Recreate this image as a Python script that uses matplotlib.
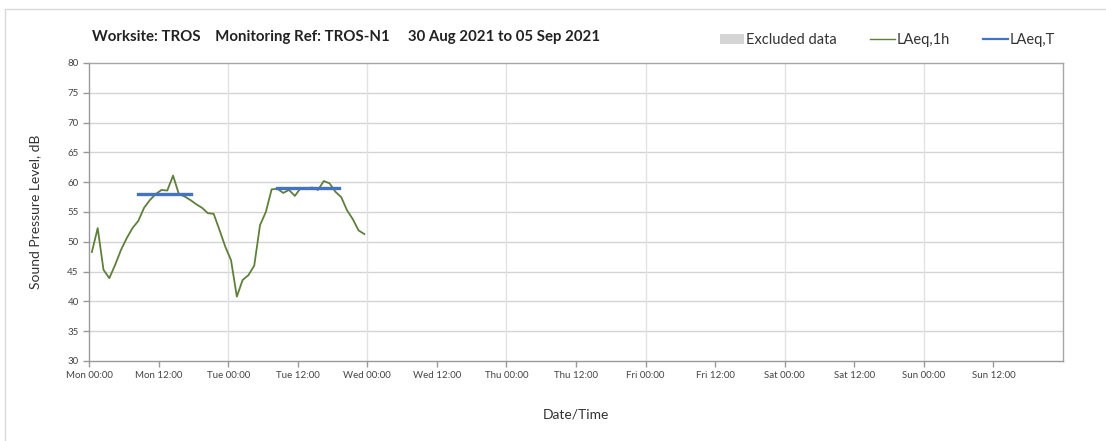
import matplotlib

matplotlib.use("Agg")
import matplotlib.pyplot as plt
from matplotlib.lines import Line2D
from matplotlib.patches import Patch, Rectangle

plt.rcParams["font.family"] = ["Lato", "DejaVu Sans"]

# Hourly LAeq,1h values, x in hours from Mon 00:00 (plotted mid-hour)
hours = [h + 0.5 for h in range(48)]
laeq_1h = [48.3, 52.3, 45.3, 43.9, 46.1, 48.6, 50.6, 52.3, 53.5, 55.7,
           57.0, 58.0, 58.7, 58.6, 61.1, 58.0, 57.6, 57.0, 56.3, 55.7,
           54.8, 54.7, 52.0, 49.2, 46.9, 40.8, 43.6, 44.4, 46.0, 52.8,
           55.0, 58.8, 58.9, 58.2, 58.7, 57.7, 59.0, 59.0, 59.1, 58.7,
           60.2, 59.8, 58.4, 57.5, 55.3, 53.8, 51.9, 51.3]

# LAeq,T period levels (start hour, end hour, level)
period_start = [8.4, 32.4]
period_end = [17.6, 43.2]
period_level = [58.0, 59.1]

tick_hours = list(range(0, 168, 12))
tick_labels = ["Mon 00:00", "Mon 12:00", "Tue 00:00", "Tue 12:00",
               "Wed 00:00", "Wed 12:00", "Thu 00:00", "Thu 12:00",
               "Fri 00:00", "Fri 12:00", "Sat 00:00", "Sat 12:00",
               "Sun 00:00", "Sun 12:00"]

W, H = 1106, 441
fig = plt.figure(figsize=(W / 100, H / 100), dpi=100)
fig.patches.append(Rectangle((5 / W, -0.1), 1.2, (H - 9) / H + 0.1,
                             transform=fig.transFigure, fill=False,
                             edgecolor="#d9d9d9", lw=1))

ax = fig.add_axes([89 / W, (H - 361) / H, (1063 - 89) / W, (361 - 63) / H])

# horizontal grid every 5 dB, vertical only at midnight
for y in range(35, 80, 5):
    ax.axhline(y, color="#d4d4d4", lw=1, zorder=0)
for d in range(24, 168, 24):
    ax.axvline(d, color="#e2e2e2", lw=1, zorder=0)

ax.plot(hours, laeq_1h, color="#5f7f3c", lw=1.3, zorder=2)
for s, e, v in zip(period_start, period_end, period_level):
    ax.plot([s, e], [v, v], color="#4472c4", lw=2.4, zorder=3)

ax.set_xlim(0, 168)
ax.set_ylim(30, 80)
ax.set_yticks(range(30, 85, 5))
ax.set_xticks(tick_hours)
ax.set_xticklabels(tick_labels)
ax.tick_params(axis="both", labelsize=7, colors="#444444", length=4,
               width=1, direction="out")
ax.tick_params(axis="both", color="#999999")
for sp in ax.spines.values():
    sp.set_color("#a6a6a6")
    sp.set_linewidth(1)
ax.spines["left"].set_color("#999999")
ax.spines["bottom"].set_color("#999999")

ax.set_xlabel("Date/Time", fontsize=10, color="#333333", labelpad=20)
ax.set_ylabel("Sound Pressure Level, dB", fontsize=10, color="#333333",
              labelpad=19)

fig.text(92 / W, 1 - 37 / H,
         "Worksite: TROS    Monitoring Ref: TROS-N1     30 Aug 2021 to 05 Sep 2021",
         fontsize=10.8, fontweight="bold", color="#222222", va="center")

handles = [Patch(facecolor="#d4d4d4", edgecolor="none"),
           Line2D([], [], color="#5f7f3c", lw=1),
           Line2D([], [], color="#4472c4", lw=1.6)]
fig.legend(handles, ["Excluded data", "LAeq,1h", "LAeq,T"], ncol=3,
           loc="center right", bbox_to_anchor=(1068 / W, 1 - 40 / H),
           frameon=False, fontsize=10.5, handlelength=1.7, handleheight=0.7,
           handletextpad=0.1, columnspacing=2.3, labelcolor="#333333")

fig.savefig("out.png", dpi=100)
